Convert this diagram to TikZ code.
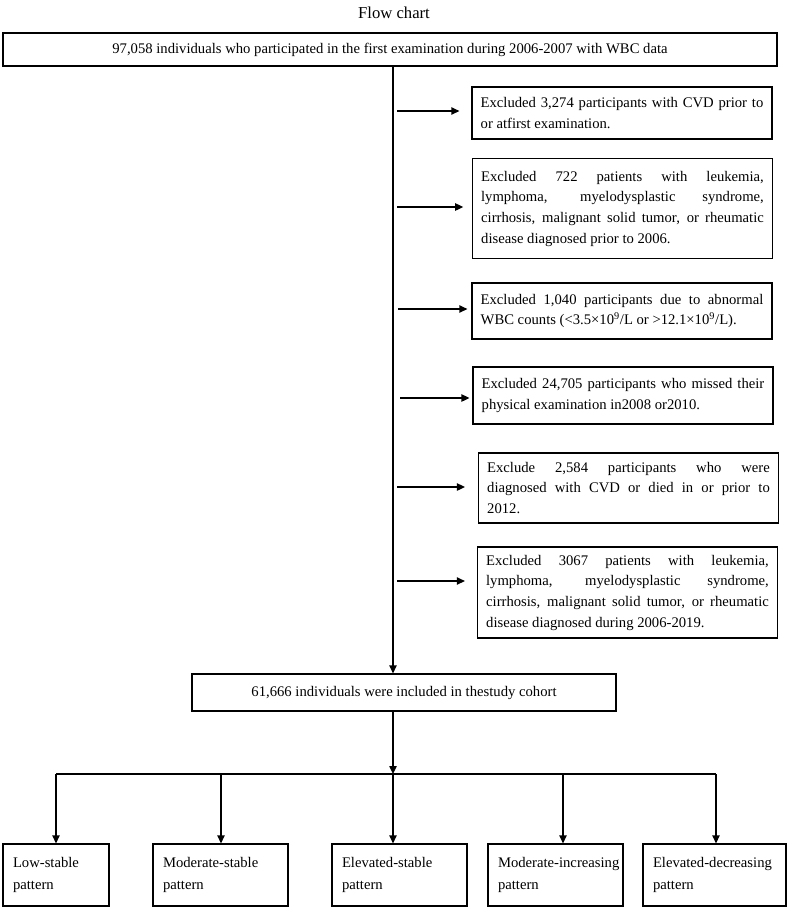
\documentclass[tikz,border=0pt]{standalone}
\usepackage{fontspec}
\setmainfont{Liberation Serif}
\usetikzlibrary{arrows.meta}
\hyphenpenalty=10000
\exhyphenpenalty=10000
\begin{document}
\begin{tikzpicture}[x=0.75pt,y=-0.75pt,
  box/.style={draw=black, line width=0.9pt, inner sep=0pt, font=\fontsize{11}{12.5}\selectfont},
  exbox/.style={box, text width=212pt, inner xsep=6.5pt, minimum width=225pt, align=justify, font=\fontsize{11}{15.5}\selectfont},
  patbox/.style={box, inner xsep=7.5pt, align=left, minimum height=46.5pt, font=\fontsize{11}{16.5}\selectfont},
  arr/.style={line width=1pt, -{Triangle[length=6pt,width=5.5pt]}},
  ln/.style={line width=1pt}]
\useasboundingbox (0,0) rectangle (789,908);
\node (title) at (394,13) {\fontsize{12.5}{14}\selectfont Flow chart};
\node[box, minimum width=580.5pt, minimum height=24.75pt] (top) at (390,49.5)
  {97,058 individuals who participated in the first examination during 2006-2007 with WBC data};
\node[exbox, minimum height=39pt] (ex1) at (622,113)
  {Excluded 3,274 participants with CVD prior to or atfirst examination.};
\node[exbox, minimum height=75pt] (ex2) at (622.5,208.5)
  {Excluded 722 patients with leukemia,\linebreak lymphoma, myelodysplastic syndrome,\linebreak cirrhosis, malignant solid tumor, or rheumatic\linebreak disease diagnosed prior to 2006.};
\node[exbox, minimum height=42pt] (ex3) at (622,311)
  {Excluded 1,040 participants due to abnormal\linebreak WBC counts (<3.5×10\textsuperscript{9}/L or >12.1×10\textsuperscript{9}/L).};
\node[exbox, minimum height=42.75pt] (ex4) at (623,395.5)
  {Excluded 24,705 participants who missed their\linebreak physical examination in2008 or2010.};
\node[exbox, minimum height=52.5pt] (ex5) at (628.5,488)
  {Exclude 2,584 participants who were\linebreak diagnosed with CVD or died in or prior to\linebreak 2012.};
\node[exbox, minimum height=68.25pt] (ex6) at (627.5,592.5)
  {Excluded 3067 patients with leukemia,\linebreak lymphoma, myelodysplastic syndrome,\linebreak cirrhosis, malignant solid tumor, or rheumatic\linebreak disease diagnosed during 2006-2019.};
\node[box, minimum width=318pt, minimum height=27.75pt] (cohort) at (404,692.5)
  {61,666 individuals were included in thestudy cohort};
\node[patbox, text width=64.5pt] (b1) at (56,875) {Low-stable\\pattern};
\node[patbox, text width=86.25pt] (b2) at (220.5,875) {Moderate-stable\\pattern};
\node[patbox, text width=86.25pt] (b3) at (399.5,875) {Elevated-stable\\pattern};
\node[patbox, text width=86.25pt] (b4) at (555.5,875) {Moderate-increasing\\pattern};
\node[patbox, text width=92.25pt] (b5) at (714.5,875) {Elevated-decreasing\\pattern};
% spine
\coordinate (sp) at (393,0);
\draw[arr] (top.south -| sp) -- (cohort.north -| sp);
% side arrows
\coordinate (a1) at (397,111);
\coordinate (a2) at (397,207);
\coordinate (a3) at (398,309);
\coordinate (a4) at (400,398);
\coordinate (a5) at (397,487);
\coordinate (a6) at (397,581);
\draw[arr, shorten >=9pt] (a1) -- (a1 -| ex1.west);
\draw[arr, shorten >=6.5pt] (a2) -- (a2 -| ex2.west);
\draw[arr, shorten >=3pt] (a3) -- (a3 -| ex3.west);
\draw[arr, shorten >=2.2pt] (a4) -- (a4 -| ex4.west);
\draw[arr, shorten >=9.7pt] (a5) -- (a5 -| ex5.west);
\draw[arr, shorten >=9pt] (a6) -- (a6 -| ex6.west);
% distribution
\coordinate (bar) at (393,774);
\coordinate (d1) at (56,774);
\coordinate (d2) at (221,774);
\coordinate (d3) at (393,774);
\coordinate (d4) at (563,774);
\coordinate (d5) at (716,774);
\draw[arr] (cohort.south -| sp) -- (bar);
\draw[ln] (d1) -- (d5);
\draw[arr] (d1) -- (d1 |- b1.north);
\draw[arr] (d2) -- (d2 |- b2.north);
\draw[arr] (d3) -- (d3 |- b3.north);
\draw[arr] (d4) -- (d4 |- b4.north);
\draw[arr] (d5) -- (d5 |- b5.north);
\end{tikzpicture}
\end{document}
